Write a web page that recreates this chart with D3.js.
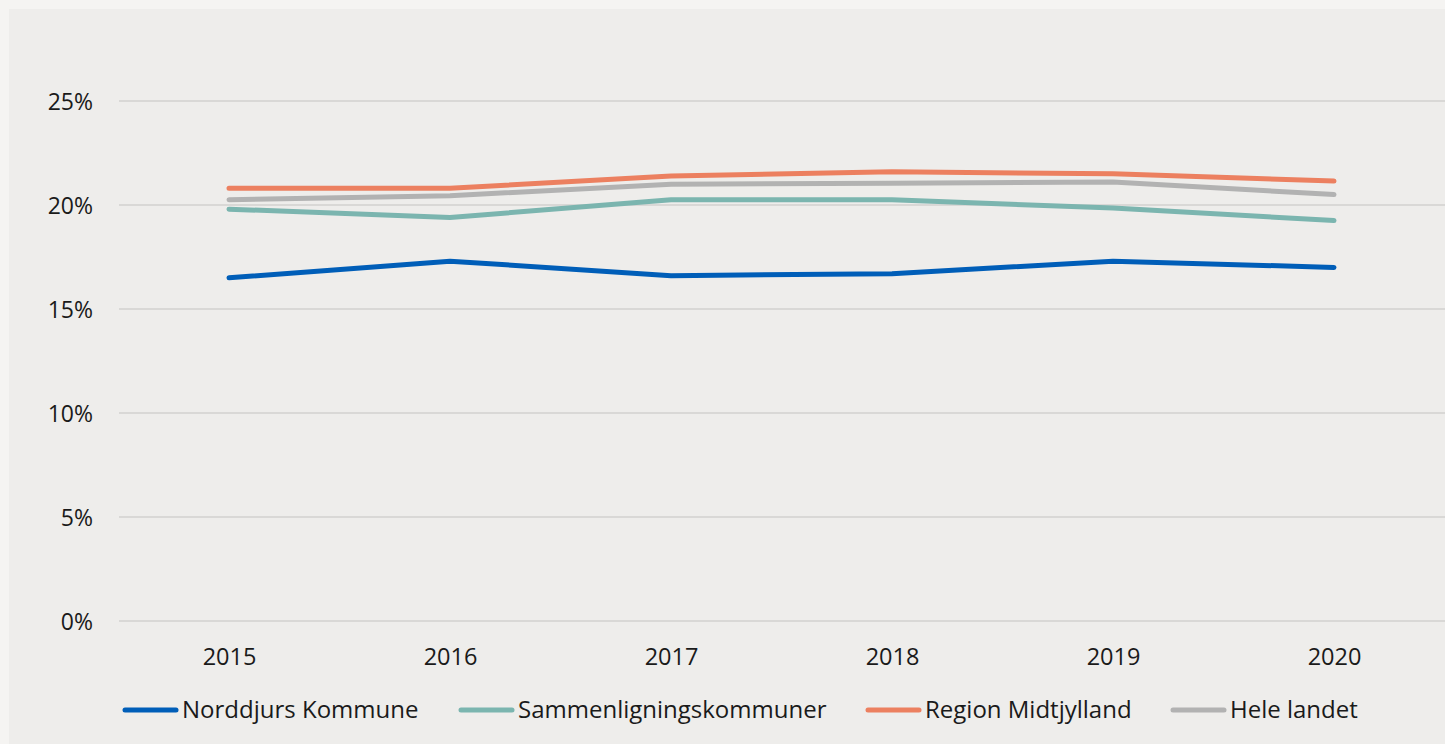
<!DOCTYPE html>
<html>
<head>
<meta charset="utf-8">
<script src="https://cdn.jsdelivr.net/npm/d3@7"></script>
<style>
  html, body { margin: 0; padding: 0; background: #f5f4f2; }
  svg { display: block; font-family: "Open Sans", "Noto Sans", sans-serif; }
</style>
</head>
<body>
<svg id="chart" width="1445" height="744"></svg>
<script>
const years = ["2015", "2016", "2017", "2018", "2019", "2020"];
const yTicks = [0, 5, 10, 15, 20, 25];
const seriesNames = ["Norddjurs Kommune", "Sammenligningskommuner", "Region Midtjylland", "Hele landet"];
const seriesColors = ["#005eb8", "#7bb5af", "#ec8060", "#b2b2b2"];
const norddjurs = [16.5, 17.3, 16.6, 16.7, 17.3, 17.0];
const sammenligning = [19.8, 19.4, 20.25, 20.25, 19.85, 19.25];
const region = [20.8, 20.8, 21.4, 21.6, 21.5, 21.15];
const heleLandet = [20.25, 20.45, 21.0, 21.05, 21.1, 20.5];
const seriesValues = [norddjurs, sammenligning, region, heleLandet];

const svg = d3.select("#chart");
svg.append("rect").attr("x", 9).attr("y", 9).attr("width", 1436).attr("height", 735).attr("fill", "#eeedeb");

const x = d3.scalePoint().domain(years).range([229, 1334]);
const y = d3.scaleLinear().domain([0, 25]).range([621, 101]);

// gridlines
svg.append("g").selectAll("line").data(yTicks).join("line")
  .attr("x1", 119).attr("x2", 1445)
  .attr("y1", d => y(d)).attr("y2", d => y(d))
  .attr("stroke", "#d9d8d6").attr("stroke-width", 2);

// y axis
const yAxis = d3.axisLeft(y).tickValues(yTicks).tickFormat(d => d + "%").tickSize(0).tickPadding(0);
const gy = svg.append("g").attr("transform", "translate(93,0)").call(yAxis);
gy.select(".domain").remove();
gy.selectAll("text").attr("font-size", 23).attr("fill", "#1a1a1a").attr("font-family", "'Open Sans', sans-serif").attr("dy", "0.35em");

// x axis
const xAxis = d3.axisBottom(x).tickSize(0).tickPadding(0);
const gx = svg.append("g").attr("transform", "translate(0,648)").call(xAxis);
gx.select(".domain").remove();
gx.selectAll("text").attr("font-size", 23.5).attr("fill", "#1a1a1a").attr("font-family", "'Open Sans', sans-serif").attr("dy", "0.71em");

// lines
const line = d3.line().x((d, i) => x(years[i])).y(d => y(d));
svg.append("g").selectAll("path").data(seriesValues).join("path")
  .attr("d", d => line(d))
  .attr("fill", "none")
  .attr("stroke", (d, i) => seriesColors[i])
  .attr("stroke-width", 5)
  .attr("stroke-linecap", "round")
  .attr("stroke-linejoin", "round");

// legend
const legendX = [125, 461, 868, 1173];
const lg = svg.append("g").selectAll("g").data(seriesNames).join("g")
  .attr("transform", (d, i) => `translate(${legendX[i]},710)`);
lg.append("line").attr("x1", 0).attr("x2", 51).attr("y1", 0).attr("y2", 0)
  .attr("stroke", (d, i) => seriesColors[i]).attr("stroke-width", 5).attr("stroke-linecap", "round");
lg.append("text").attr("x", 57).attr("y", 0).attr("dy", "0.35em")
  .attr("font-size", 24).attr("fill", "#1a1a1a").text(d => d);
</script>
</body>
</html>
